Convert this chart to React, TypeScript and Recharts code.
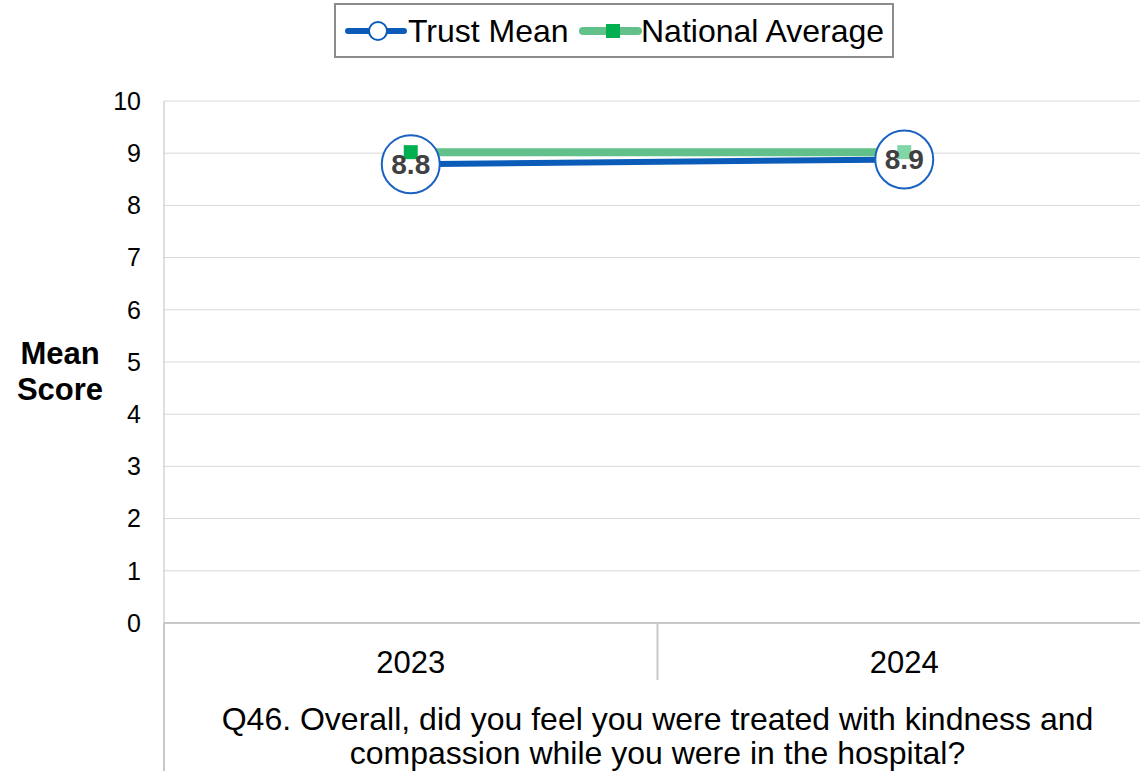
import React from 'react'
import { LineChart, Line, XAxis, YAxis, CartesianGrid } from 'recharts'

// values
const years = ['2023', '2024']
const trustMean = [8.79, 8.88]
const nationalAverage = [9.02, 9.02]
const yTicks = [0, 1, 2, 3, 4, 5, 6, 7, 8, 9, 10]
const questionLines = [
  'Q46. Overall, did you feel you were treated with kindness and',
  'compassion while you were in the hospital?',
]

const FONT = '"Liberation Sans", Arial, sans-serif'
const CHART_W = 1160
const CHART_H = 771
const MARGIN = { top: 101, right: 9, bottom: 0, left: 0 }
const Y_AXIS_W = 164
const X_AXIS_H = 148
const BAND = (CHART_W - MARGIN.left - MARGIN.right - Y_AXIS_W) / years.length
const AXIS_GREY = '#c8c8c8'
const TRUST_BLUE = '#0b5cb8'
const NAT_GREEN = '#62c08a'
const NAT_MARKER = ['#00b050', '#80d6a6']

const chartData = years.map((y, i) => ({ year: y, trust: trustMean[i], national: nationalAverage[i] }))

function XTick(props: any) {
  const { x, y, payload, index } = props
  return (
    <g>
      <text x={x} y={y + 50} textAnchor="middle" fontSize={31} fontFamily={FONT} fill="#000">
        {payload.value}
      </text>
      {index === 0 && (
        <line x1={x - BAND / 2} x2={x - BAND / 2} y1={y} y2={CHART_H} stroke={AXIS_GREY} strokeWidth={2} />
      )}
      {index < years.length - 1 && (
        <line x1={x + BAND / 2} x2={x + BAND / 2} y1={y} y2={y + 57} stroke={AXIS_GREY} strokeWidth={2} />
      )}
    </g>
  )
}

const renderYLabel = (props: any) => {
  const vb = props.viewBox
  const cx = vb.x + 60
  const cy = vb.y + vb.height / 2
  return (
    <text textAnchor="middle" fontFamily={FONT} fontWeight="bold" fontSize={31} fill="#000">
      <tspan x={cx} y={cy + 2}>Mean</tspan>
      <tspan x={cx} y={cy + 38}>Score</tspan>
    </text>
  )
}

const renderXTitle = (props: any) => {
  const vb = props.viewBox
  const cx = vb.x + vb.width / 2
  return (
    <text textAnchor="middle" fontFamily={FONT} fontSize={32} fill="#000">
      {questionLines.map((t, i) => (
        <tspan key={i} x={cx} y={vb.y + 107 + i * 34}>{t}</tspan>
      ))}
    </text>
  )
}

const renderTrustLabel = (props: any) => (
  <text x={props.x} y={props.y + 10} textAnchor="middle" fontSize={28} fontWeight="bold" fill="#404040" fontFamily={FONT}>
    {Number(props.value).toFixed(1)}
  </text>
)

const NatDot = (props: any) => {
  const { cx, cy, index } = props
  const s = 14
  return <rect key={index} x={cx - s / 2} y={cy - s / 2} width={s} height={s} fill={NAT_MARKER[index]} />
}

function ChartLegend() {
  return (
    <div style={{ position: 'absolute', left: 334, top: 3, width: 560, height: 55, border: '2px solid #8c8c8c', boxSizing: 'border-box', background: '#fff' }}>
      <svg width={556} height={51} style={{ display: 'block' }}>
        <line x1={12} x2={68} y1={26} y2={26} stroke={TRUST_BLUE} strokeWidth={6} strokeLinecap="round" />
        <circle cx={42} cy={26} r={9} fill="#fff" stroke={TRUST_BLUE} strokeWidth={2} />
        <text x={72} y={37} fontSize={32} fontFamily={FONT} fill="#000">Trust Mean</text>
        <line x1={247} x2={302} y1={26} y2={26} stroke={NAT_GREEN} strokeWidth={8} strokeLinecap="round" />
        <rect x={270} y={19} width={14} height={14} fill={NAT_MARKER[0]} />
        <text x={305} y={37} fontSize={32} fontFamily={FONT} fill="#000">National Average</text>
      </svg>
    </div>
  )
}

export default function App() {
  return (
    <div style={{ position: 'fixed', left: 0, top: 0, width: 1140, height: 771, overflow: 'hidden', background: '#fff' }}>
      <LineChart width={CHART_W} height={CHART_H} data={chartData} margin={MARGIN}>
        <CartesianGrid vertical={false} stroke="#d9d9d9" strokeWidth={1} />
        <XAxis
          dataKey="year"
          height={X_AXIS_H}
          padding={{ left: BAND / 2, right: BAND / 2 }}
          axisLine={{ stroke: AXIS_GREY, strokeWidth: 2 }}
          tickLine={false}
          tickSize={0}
          tickMargin={0}
          tick={(p: any) => <XTick {...p} />}
          label={renderXTitle}
        />
        <YAxis
          width={Y_AXIS_W}
          domain={[0, 10]}
          ticks={yTicks}
          interval={0}
          axisLine={{ stroke: '#bfbfbf', strokeWidth: 1 }}
          tickLine={false}
          tickSize={0}
          tickMargin={23}
          tick={{ fontSize: 25, fill: '#000', fontFamily: FONT }}
          label={renderYLabel}
        />
        <Line
          dataKey="trust"
          stroke={TRUST_BLUE}
          strokeWidth={6}
          dot={{ r: 29, fill: '#fff', stroke: '#1a62c0', strokeWidth: 2 }}
          activeDot={false}
          isAnimationActive={false}
        />
        <Line
          dataKey="national"
          stroke={NAT_GREEN}
          strokeWidth={8}
          dot={(p: any) => <NatDot {...p} />}
          activeDot={false}
          isAnimationActive={false}
        />
        <Line
          dataKey="trust"
          stroke="none"
          dot={false}
          activeDot={false}
          legendType="none"
          label={renderTrustLabel}
          isAnimationActive={false}
        />
      </LineChart>
      <ChartLegend />
    </div>
  )
}
